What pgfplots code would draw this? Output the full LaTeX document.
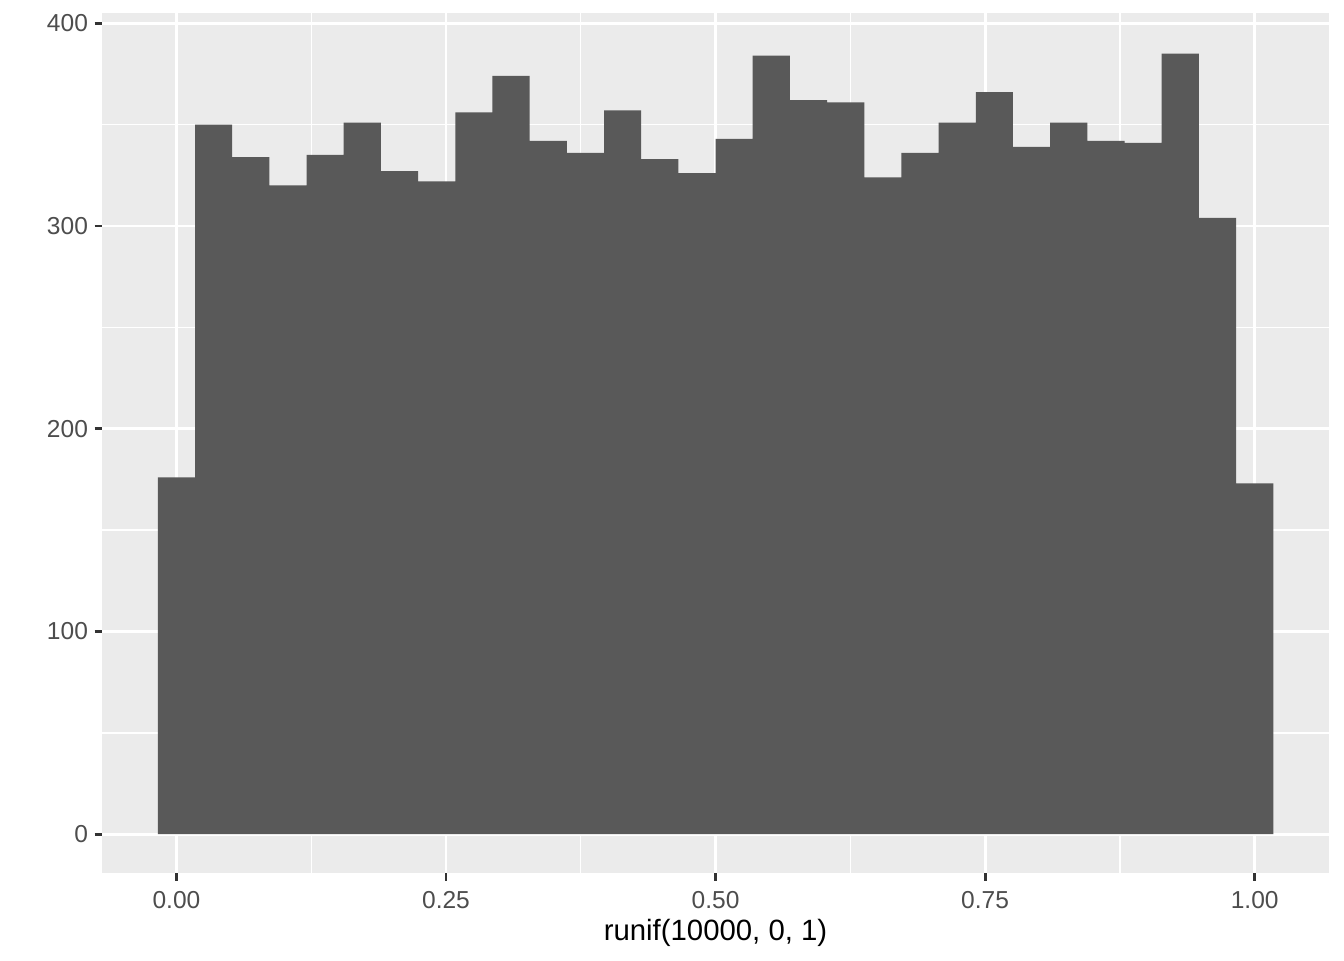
\documentclass[border=0pt]{standalone}
\usepackage{fontspec}
\setmainfont{Liberation Sans}
\usepackage{pgfplots}
\pgfplotsset{compat=1.18}
\definecolor{panelbg}{HTML}{EBEBEB}
\definecolor{barfill}{HTML}{595959}
\definecolor{ticklab}{HTML}{4D4D4D}
\definecolor{tickcol}{HTML}{333333}

\begin{document}
\begin{tikzpicture}
\begin{axis}[
  scale only axis,
  width=460pt, height=322.5pt,
  xmin=-0.0690, xmax=1.0690, ymin=-19.3, ymax=405,
  axis background/.style={fill=panelbg},
  axis line style={draw=none},
  xtick={0,0.25,0.5,0.75,1}, xticklabels={0.00,0.25,0.50,0.75,1.00},
  ytick={0,100,200,300,400}, yticklabels={0,100,200,300,400},
  minor xtick={0.125,0.375,0.625,0.875},
  minor ytick={50,150,250,350},
  grid=both,
  major grid style={white, line width=1.07pt},
  minor grid style={white, line width=0.53pt},
  tick align=outside, major tick length=2.75pt, minor tick length=0pt,
  major tick style={tickcol, line width=1.07pt},
  minor tick style={draw=none},
  xtick pos=bottom, ytick pos=left,
  /pgf/number format/assume math mode=true,
  tick label style={font=\fontsize{9.2}{11}\selectfont, text=ticklab},
  xticklabel style={yshift=-0.5pt},
  yticklabel style={xshift=1pt},
  xlabel={runif(10000, 0, 1)},
  xlabel style={font=\fontsize{11}{13}\selectfont, text=black, yshift=3pt},
]
% 30 bins of width 1/29, edges at (2k-1)/58
\addplot[ybar interval, fill=barfill, draw=none] coordinates {
(-0.017241,176) (0.017241,350) (0.051724,334) (0.086207,320) (0.120690,335)
(0.155172,351) (0.189655,327) (0.224138,322) (0.258621,356) (0.293103,374)
(0.327586,342) (0.362069,336) (0.396552,357) (0.431034,333) (0.465517,326)
(0.5,343) (0.534483,384) (0.568966,362) (0.603448,361) (0.637931,324)
(0.672414,336) (0.706897,351) (0.741379,366) (0.775862,339) (0.810345,351)
(0.844828,342) (0.879310,341) (0.913793,385) (0.948276,304) (0.982759,173)
(1.017241,173)};
\end{axis}
\path ([shift={(-38.25pt,-32.6pt)}]current axis.south west)
  rectangle ([shift={(5.6pt,4.9pt)}]current axis.north east);
\end{tikzpicture}
\end{document}
